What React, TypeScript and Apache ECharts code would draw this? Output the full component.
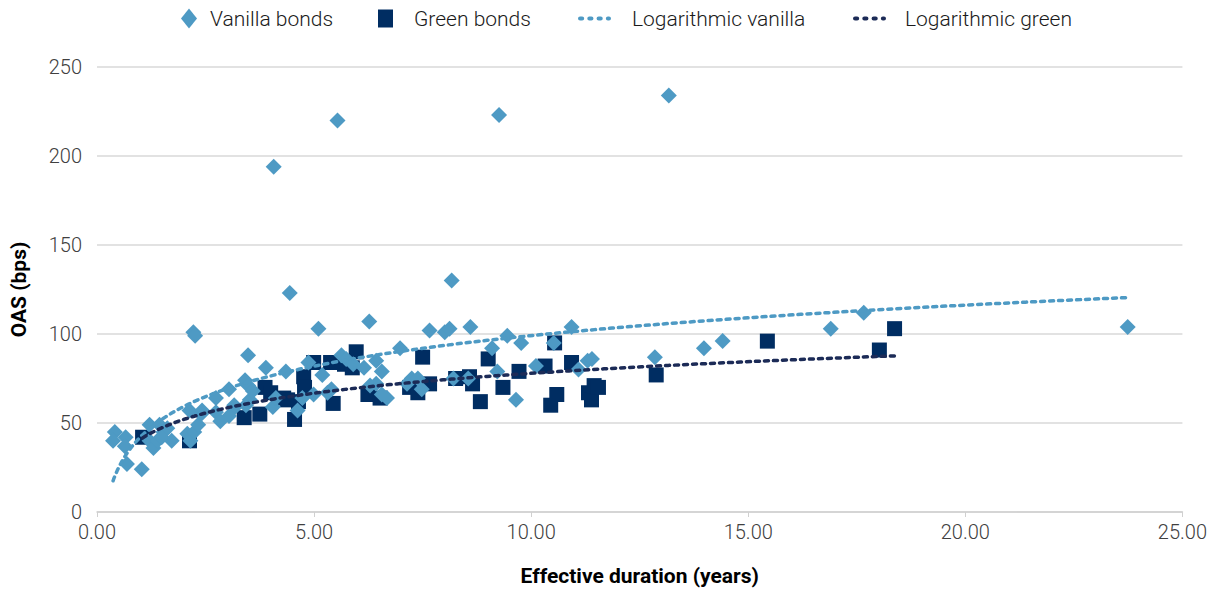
import React, { useEffect, useRef } from "react";
import * as echarts from "echarts";

// Vanilla bonds: [effective duration (years), OAS (bps)]
const vanillaBonds: number[][] = [
  [0.41, 45], [0.37, 40], [0.66, 42], [0.69, 27], [1.03, 24], [0.64, 37], [1.21, 49], [1.21, 40],
  [1.30, 36], [1.39, 40], [1.44, 49], [1.53, 45], [1.62, 47], [1.72, 40], [1.49, 42], [2.13, 57],
  [2.22, 101], [2.26, 99], [2.08, 44], [2.15, 40], [2.24, 45], [2.33, 49], [2.40, 55], [2.42, 57],
  [2.74, 64], [2.74, 56], [2.84, 51], [3.04, 69], [3.18, 59], [3.16, 60], [3.04, 54], [3.43, 60],
  [3.41, 74], [3.48, 71], [3.48, 88], [3.52, 63], [3.59, 68], [3.89, 81], [4.05, 59], [4.07, 194],
  [4.12, 64], [4.35, 79], [4.44, 123], [4.62, 57], [4.73, 64], [4.87, 84], [4.99, 66], [5.10, 103],
  [5.19, 77], [5.31, 67], [5.40, 69], [5.54, 220], [5.63, 88], [5.74, 86], [5.90, 83], [6.15, 81],
  [6.27, 107], [6.29, 71], [6.43, 72], [6.43, 85], [6.56, 79], [6.56, 66], [6.68, 64], [6.98, 92],
  [7.14, 72], [7.25, 75], [7.39, 75], [7.48, 69], [7.66, 102], [8.01, 101], [8.12, 103], [8.17, 130],
  [8.21, 75], [8.60, 104], [8.55, 75], [9.10, 92], [9.22, 79], [9.26, 223], [9.45, 99], [9.65, 63],
  [9.77, 95], [10.11, 82], [10.52, 95], [10.93, 104], [11.09, 80], [11.30, 85], [11.40, 86],
  [12.85, 87], [13.17, 234], [13.98, 92], [14.41, 96], [16.90, 103], [17.66, 112], [23.74, 104],
];

// Green bonds: [effective duration (years), OAS (bps)]
const greenBonds: number[][] = [
  [1.05, 42], [2.13, 40], [3.39, 53], [3.75, 55], [3.87, 70], [4.00, 67], [4.30, 64], [4.39, 63],
  [4.55, 52], [4.64, 62], [4.76, 76], [4.78, 70], [4.99, 84], [5.44, 61], [5.38, 84], [5.70, 83],
  [5.97, 90], [5.88, 81], [6.24, 66], [6.52, 64], [7.50, 87], [7.20, 70], [7.39, 67], [7.66, 72],
  [8.26, 75], [8.58, 76], [8.65, 72], [8.83, 62], [9.01, 86], [9.35, 70], [9.72, 79], [10.32, 82],
  [10.45, 60], [10.59, 66], [10.54, 95], [10.93, 84], [11.32, 67], [11.39, 63], [11.45, 71],
  [11.55, 70], [12.88, 77], [15.44, 96], [18.02, 91], [18.37, 103],
];

const xTicks = [0, 5, 10, 15, 20, 25];
const yTicks = [0, 50, 100, 150, 200, 250];

const seriesNames = ["Vanilla bonds", "Green bonds", "Logarithmic vanilla", "Logarithmic green"];

// Logarithmic least-squares trend line (y = a ln x + b) computed from the scatter data
function logTrend(points: number[][], samples = 120): number[][] {
  const n = points.length;
  let sl = 0, sy = 0, sll = 0, sly = 0;
  for (const [x, y] of points) {
    const l = Math.log(x);
    sl += l; sy += y; sll += l * l; sly += l * y;
  }
  const a = (n * sly - sl * sy) / (n * sll - sl * sl);
  const b = (sy - a * sl) / n;
  const xs = points.map((p) => p[0]);
  const x0 = Math.min(...xs);
  const x1 = Math.max(...xs);
  const out: number[][] = [];
  for (let i = 0; i <= samples; i++) {
    const x = x0 * Math.pow(x1 / x0, i / samples);
    out.push([x, a * Math.log(x) + b]);
  }
  return out;
}

const VANILLA = "#4e9ac4";
const GREEN = "#002d62";
const GREEN_TREND = "#1c2b57";
const FONT = "Roboto, 'Liberation Sans', sans-serif";

const dotsIcon =
  "path://M2,0h2a2,2 0 0 1 0,4h-2a2,2 0 0 1 0,-4z M11,0h2a2,2 0 0 1 0,4h-2a2,2 0 0 1 0,-4z M20,0h2a2,2 0 0 1 0,4h-2a2,2 0 0 1 0,-4z M29,0h1a2,2 0 0 1 0,4h-1a2,2 0 0 1 0,-4z";

export default function App() {
  const ref = useRef<HTMLDivElement>(null);
  useEffect(() => {
    if (!ref.current) return;
    const chart = echarts.init(ref.current, undefined, { renderer: "svg" });
    const legendText = (pad: number) => ({
      fontSize: 21,
      color: "#1a1a1a",
      fontFamily: FONT,
      fontWeight: 300 as any,
      padding: [0, 0, 0, pad],
    });
    chart.setOption({
      animation: false,
      backgroundColor: "#ffffff",
      textStyle: { fontFamily: FONT },
      legend: [
        { data: [{ name: seriesNames[0], icon: "diamond" }], left: 176, top: 3, itemWidth: 16, itemHeight: 20, textStyle: legendText(8), selectedMode: false },
        { data: [{ name: seriesNames[1], icon: "rect" }], left: 373, top: 3, itemWidth: 15, itemHeight: 18, textStyle: legendText(16), selectedMode: false },
        { data: [{ name: seriesNames[2], icon: dotsIcon }], left: 573, top: 3, itemWidth: 33, itemHeight: 18, textStyle: legendText(16), selectedMode: false },
        { data: [{ name: seriesNames[3], icon: dotsIcon }], left: 848, top: 3, itemWidth: 33, itemHeight: 18, textStyle: legendText(14), selectedMode: false },
      ],
      grid: { left: 95, right: 22, top: 67, bottom: 79, containLabel: false },
      xAxis: {
        type: "value",
        min: xTicks[0],
        max: xTicks[xTicks.length - 1],
        interval: 5,
        name: "Effective duration (years)",
        nameLocation: "middle",
        nameGap: 53,
        nameTextStyle: { fontSize: 21, fontWeight: "bold", color: "#000", fontFamily: FONT },
        axisLine: { show: true, lineStyle: { color: "#d0d0d0", width: 1.5 } },
        axisTick: { show: true, length: 5, lineStyle: { color: "#d0d0d0" } },
        axisLabel: { fontSize: 20, color: "#404040", margin: 10, fontWeight: 300, formatter: (v: number) => v.toFixed(2) },
        splitLine: { show: false },
      },
      yAxis: {
        type: "value",
        min: yTicks[0],
        max: yTicks[yTicks.length - 1],
        interval: 50,
        name: "OAS (bps)",
        nameLocation: "middle",
        nameGap: 68,
        nameRotate: 90,
        nameTextStyle: { fontSize: 21, fontWeight: "bold", color: "#000", fontFamily: FONT },
        axisLine: { show: false },
        axisTick: { show: false },
        axisLabel: { fontSize: 20, color: "#404040", margin: 15, fontWeight: 300 },
        splitLine: { show: true, lineStyle: { color: "#d9d9d9", width: 1.5 } },
      },
      series: [
        {
          name: seriesNames[0],
          type: "scatter",
          symbol: "diamond",
          symbolSize: 16,
          itemStyle: { color: VANILLA, opacity: 1 },
          data: vanillaBonds,
          z: 3,
        },
        {
          name: seriesNames[1],
          type: "scatter",
          symbol: "rect",
          symbolSize: 15,
          itemStyle: { color: GREEN, opacity: 1 },
          data: greenBonds,
          z: 2,
        },
        {
          name: seriesNames[2],
          type: "line",
          showSymbol: false,
          symbol: "none",
          smooth: false,
          itemStyle: { color: VANILLA },
          lineStyle: { color: VANILLA, width: 3.5, type: [4, 5], cap: "round" },
          data: logTrend(vanillaBonds),
          z: 4,
        },
        {
          name: seriesNames[3],
          type: "line",
          showSymbol: false,
          symbol: "none",
          smooth: false,
          itemStyle: { color: GREEN_TREND },
          lineStyle: { color: GREEN_TREND, width: 3.5, type: [4, 5], cap: "round" },
          data: logTrend(greenBonds),
          z: 4,
        },
      ],
    });
    return () => chart.dispose();
  }, []);
  return (
    <div
      ref={ref}
      style={{ position: "fixed", left: 0, top: 0, width: 1210, height: 591, background: "#fff" }}
    />
  );
}
